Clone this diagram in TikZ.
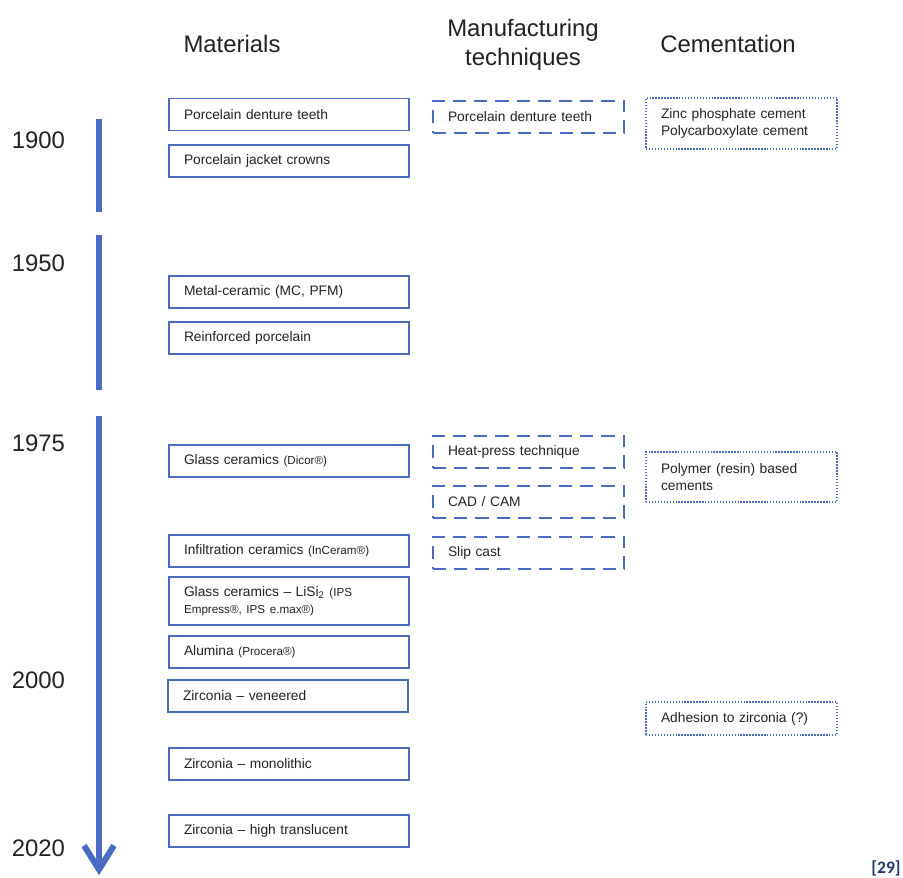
\documentclass[tikz,border=0pt]{standalone}
\usepackage{fontspec}
\setmainfont{Liberation Sans}
\newfontfamily\reffont{Carlito}
\usepackage{xcolor}
\usepackage{tikz}
\usetikzlibrary{arrows.meta, positioning}
\definecolor{tlblue}{HTML}{4A6BC3}
\definecolor{tltext}{HTML}{222222}
\definecolor{tlnavy}{HTML}{1F3A6E}
\newcommand{\smalltxt}[1]{{\fontsize{8.3}{10}\selectfont #1}}

\begin{document}
\begin{tikzpicture}[
  box/.style={
    rectangle,
    draw=tlblue,
    line width=1.3pt,
    minimum height=#1,
    inner xsep=0.375cm,
    inner ysep=2pt,
    align=left,
    text=tltext,
    font=\fontsize{9.8}{12}\selectfont
  },
  matbox/.style={box=#1, text width=5.25cm},
  matbox/.default=0.8cm,
  techbox/.style={box=0.82cm, text width=4.025cm,
    dash pattern=on 0.33cm off 0.2cm},
  cembox/.style={box=#1, text width=4.025cm, line width=1pt,
    dash pattern=on 1pt off 1.1pt},
  cembox/.default=0.82cm,
  heading/.style={text=tltext, font=\fontsize{17}{21}\selectfont, align=center},
  year/.style={text=tltext, font=\fontsize{17}{20}\selectfont, anchor=west},
  bar/.style={draw=tlblue, line width=4.3pt}
]
  \useasboundingbox (0,0) rectangle (22.575,-21.95);

  % column headings
  \node[heading] (hmat) at (5.8,-1.1) {Materials};
  \node[heading] (htech) at (13.075,-1.12) {Manufacturing\\techniques};
  \node[heading] (hcem) at (18.2,-1.1) {Cementation};

  % years
  \node[year] (y1900) at (0.17,-3.5) {1900};
  \node[year] (y1950) at (0.17,-6.575) {1950};
  \node[year] (y1975) at (0.17,-11.075) {1975};
  \node[year] (y2000) at (0.17,-17.0) {2000};
  \node[year] (y2020) at (0.17,-21.2) {2020};

  % time line
  \draw[bar] (2.475,-2.975) -- (2.475,-5.3);
  \draw[bar] (2.475,-5.875) -- (2.475,-9.75);
  \draw[bar, -{Straight Barb[length=0.6cm, width=0.75cm]}] (2.475,-10.4) -- (2.475,-21.88);

  % materials
  \node[matbox] (m1) at (7.225,-2.8625) {Porcelain denture teeth};
  \node[matbox] (m2) at (7.225,-4.025) {Porcelain jacket crowns};
  \node[matbox] (m3) at (7.225,-7.3) {Metal-ceramic (MC, PFM)};
  \node[matbox] (m4) at (7.225,-8.45) {Reinforced porcelain};
  \node[matbox] (m5) at (7.225,-11.525) {Glass ceramics \smalltxt{(Dicor®)}};
  \node[matbox] (m6) at (7.225,-13.775) {Infiltration ceramics \smalltxt{(InCeram®)}};
  \node[matbox=1.2cm] (m7) at (7.225,-15.025)
    {Glass ceramics -- LiSi\textsubscript{2} \smalltxt{(IPS}\\\smalltxt{Empress®, IPS e.max®)}};
  \node[matbox] (m8) at (7.225,-16.3) {Alumina \smalltxt{(Procera®)}};
  \node[matbox] (m9) at (7.2,-17.4) {Zirconia -- veneered};
  \node[matbox] (m10) at (7.225,-19.1) {Zirconia -- monolithic};
  \node[matbox] (m11) at (7.225,-20.775) {Zirconia -- high translucent};

  % manufacturing techniques
  \node[techbox] (t1) at (13.2125,-2.925) {Porcelain denture teeth};
  \node[techbox] (t2) at (13.2125,-11.3) {Heat-press technique};
  \node[techbox] (t3) at (13.2125,-12.55) {CAD / CAM};
  \node[techbox] (t4) at (13.2125,-13.825) {Slip cast};

  % cementation
  \node[cembox=1.275cm] (c1) at (18.5375,-3.0875) {Zinc phosphate cement\\Polycarboxylate cement};
  \node[cembox=1.25cm] (c2) at (18.5375,-11.925) {Polymer (resin) based\\cements};
  \node[cembox] (c3) at (18.5375,-17.9625) {Adhesion to zirconia (?)};

  \node[text=tlnavy, font=\reffont\bfseries\fontsize{12.5}{14}\selectfont] (ref) at (22.15,-21.72) {[29]};
\end{tikzpicture}
\end{document}
